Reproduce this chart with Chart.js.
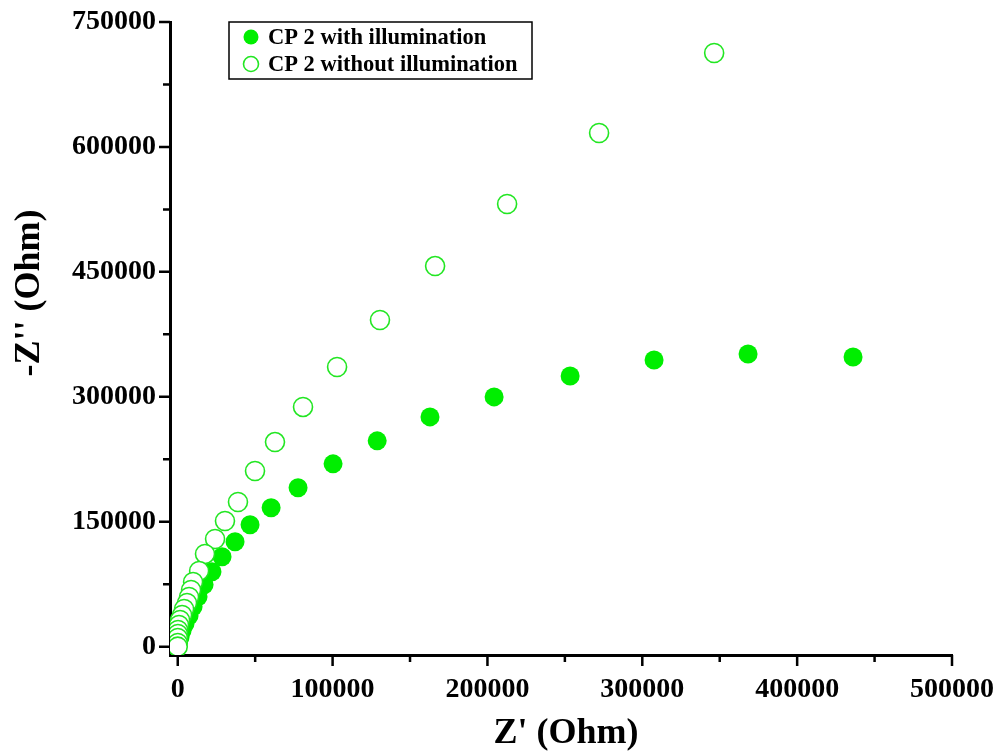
<!DOCTYPE html>
<html>
<head>
<meta charset="utf-8">
<script src="https://cdn.jsdelivr.net/npm/chart.js@4.4.1/dist/chart.umd.min.js"></script>
<style>
    html, body { margin: 0; padding: 0; background: #fff; }
</style>
</head>
<body>
<canvas id="nyquist" width="1000" height="753"></canvas>
<script>
// CP 2 with illumination  (Z', -Z'')
var litX = [436100, 368300, 307600, 253400, 204300, 162900, 128800, 100300, 77700, 60300, 46700, 37000,
            28600, 22100, 17000, 13100, 9900, 7300, 4700, 2800, 1500, 200, 0];
var litY = [347800, 351400, 344200, 325000, 299900, 275900, 247100, 219500, 190700, 166700, 146300, 125900,
            107900, 89900, 74300, 59900, 47900, 37100, 27500, 19000, 11600, 5600, 800];

// CP 2 without illumination
var darkX = [346400, 272100, 212700, 166200, 130600, 102900, 80900, 62800, 49900, 38900, 30500, 24100,
             17600, 13800, 9900, 8600, 7300, 6000, 4100, 2800, 1500, 800, 200, 100, 50, 20, 0];
var darkY = [712800, 616700, 531500, 457000, 392200, 335800, 287800, 245700, 210900, 173700, 150900, 129300,
             111300, 90900, 77700, 68100, 59700, 52500, 45300, 38100, 32000, 26000, 20000, 15200, 10400, 4400, 0];

var xTicks = [0, 100000, 200000, 300000, 400000, 500000];
var yTicks = [0, 150000, 300000, 450000, 600000, 750000];
var xMinor = [50000, 150000, 250000, 350000, 450000];
var yMinor = [75000, 225000, 375000, 525000, 675000];

var seriesNames = ['CP 2 with illumination', 'CP 2 without illumination'];
var green = '#00ee00';
var greenLine = '#22e622';
var serif = '"Liberation Serif", "Times New Roman", serif';

function toPoints(xs, ys) {
    return xs.map(function (x, i) { return { x: x, y: ys[i] }; });
}

// ticks, axis titles and the boxed legend
var decorations = {
    id: 'decorations',
    afterDraw: function (chart) {
        var ctx = chart.ctx;
        var xs = chart.scales.x, ys = chart.scales.y;
        var axisY = xs.top, axisX = ys.right;
        ctx.save();
        ctx.strokeStyle = '#000';
        ctx.lineWidth = 2.5;
        ctx.beginPath();
        xTicks.forEach(function (v) { var p = xs.getPixelForValue(v); ctx.moveTo(p, axisY); ctx.lineTo(p, axisY + 11); });
        xMinor.forEach(function (v) { var p = xs.getPixelForValue(v); ctx.moveTo(p, axisY); ctx.lineTo(p, axisY + 7); });
        yTicks.forEach(function (v) { var p = ys.getPixelForValue(v); ctx.moveTo(axisX, p); ctx.lineTo(axisX - 11, p); });
        yMinor.forEach(function (v) { var p = ys.getPixelForValue(v); ctx.moveTo(axisX, p); ctx.lineTo(axisX - 7, p); });
        ctx.stroke();

        ctx.fillStyle = '#000';
        ctx.font = 'bold 36px ' + serif;
        ctx.textAlign = 'center';
        ctx.textBaseline = 'middle';
        ctx.fillText("Z' (Ohm)", 566, 734);
        ctx.translate(30, 293);
        ctx.rotate(-Math.PI / 2);
        ctx.fillText("-Z'' (Ohm)", 0, 0);
        ctx.restore();

        // legend
        ctx.save();
        ctx.strokeStyle = '#000';
        ctx.lineWidth = 1.5;
        ctx.strokeRect(229, 22, 303, 57);
        ctx.font = 'bold 22.5px ' + serif;
        ctx.textAlign = 'left';
        ctx.textBaseline = 'middle';
        var rows = [37, 64];
        chart.data.datasets.forEach(function (ds, i) {
            ctx.beginPath();
            ctx.arc(251, rows[i], 7.5, 0, Math.PI * 2);
            ctx.fillStyle = ds.backgroundColor;
            ctx.fill();
            if (ds.borderWidth) {
                ctx.lineWidth = ds.borderWidth;
                ctx.strokeStyle = ds.borderColor;
                ctx.stroke();
            }
            ctx.fillStyle = '#000';
            ctx.fillText(ds.label, 268, rows[i] + 1);
        });
        ctx.restore();
    }
};

var ctx = document.getElementById('nyquist').getContext('2d');
new Chart(ctx, {
    type: 'scatter',
    data: {
        datasets: [{
            label: seriesNames[0],
            data: toPoints(litX, litY),
            backgroundColor: green,
            borderColor: green,
            borderWidth: 0,
            pointRadius: 9.5,
            order: 2
        }, {
            label: seriesNames[1],
            data: toPoints(darkX, darkY),
            backgroundColor: '#ffffff',
            borderColor: greenLine,
            borderWidth: 1.6,
            pointRadius: 9.5,
            order: 1
        }]
    },
    options: {
        responsive: false,
        animation: false,
        layout: { padding: { top: 22, right: 48, left: 0, bottom: 0 } },
        plugins: { legend: { display: false }, tooltip: { enabled: false } },
        scales: {
            x: {
                type: 'linear',
                min: -5000,
                max: 500000,
                afterBuildTicks: function (scale) { scale.ticks = xTicks.map(function (v) { return { value: v }; }); },
                afterFit: function (scale) {
                    scale.height = 98;
                    scale.paddingLeft = 0;
                    scale.paddingRight = 0;
                },
                grid: { display: false, drawTicks: false },
                border: { display: true, color: '#000', width: 3 },
                ticks: {
                    color: '#000',
                    padding: 18,
                    maxRotation: 0,
                    font: { family: serif, size: 28, weight: 'bold' },
                    callback: function (v) { return String(v); }
                }
            },
            y: {
                type: 'linear',
                min: -10000,
                max: 750000,
                afterBuildTicks: function (scale) { scale.ticks = yTicks.map(function (v) { return { value: v }; }); },
                afterFit: function (scale) {
                    scale.width = 170;
                    scale.paddingTop = 0;
                    scale.paddingBottom = 0;
                },
                grid: { display: false, drawTicks: false },
                border: { display: true, color: '#000', width: 3 },
                ticks: {
                    color: '#000',
                    padding: 14,
                    font: { family: serif, size: 28, weight: 'bold' },
                    callback: function (v) { return String(v); }
                }
            }
        }
    },
    plugins: [decorations]
});
</script>
</body>
</html>
